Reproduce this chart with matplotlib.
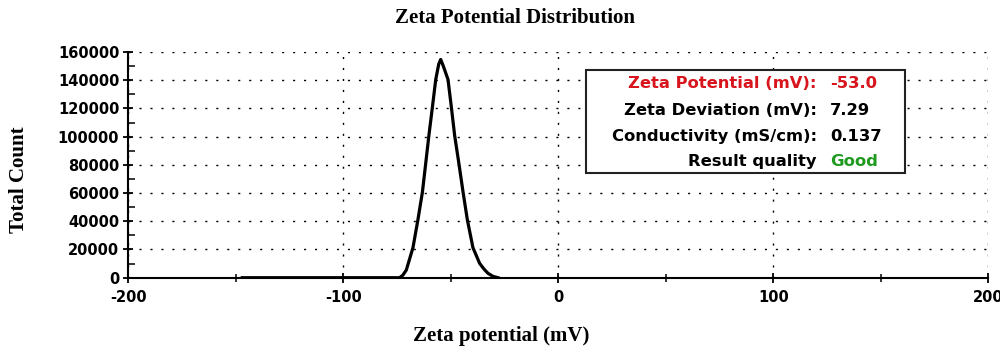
import matplotlib.pyplot as plt
from matplotlib.patches import Rectangle
from matplotlib.ticker import MultipleLocator

# distribution
zeta = [-147, -110, -73.8, -72.3, -70.7, -67.6, -65.3, -63.2, -61.7, -60.2, -58.6, -57.0,
        -55.6, -54.7, -53.6, -51.3, -49.7, -48.2, -46.2, -44.3, -42.3, -39.7, -36.6,
        -34.5, -32.7, -30.3, -28.0]
counts = [0, 0, 0, 1800, 5400, 21300, 41000, 60700, 80600, 100700, 120400, 140500,
          151500, 154700, 150500, 140500, 120400, 100700, 80600, 60700, 41000, 21300, 10200,
          6000, 3100, 900, 0]

xticks = [-200, -100, 0, 100, 200]
yticks = list(range(0, 160001, 20000))

labels = ['Zeta Potential (mV):', 'Zeta Deviation (mV):', 'Conductivity (mS/cm):', 'Result quality']
values = ['-53.0', '7.29', '0.137', 'Good']
label_colors = ['#d8141c', 'black', 'black', 'black']
value_colors = ['#d8141c', 'black', 'black', '#1e9a1e']

fig = plt.figure(figsize=(10, 3.49), dpi=100)
ax = fig.add_axes([0.1283, 1 - 277.7 / 349, 0.86, 225.7 / 349])

ax.plot(zeta, counts, color='black', lw=2.3, zorder=3)

ax.set_xlim(-200, 200)
ax.set_ylim(0, 160000)
ax.set_xticks(xticks)
ax.set_yticks(yticks)
ax.xaxis.set_minor_locator(MultipleLocator(50))
ax.yaxis.set_minor_locator(MultipleLocator(10000))
ax.set_xticklabels([str(t) for t in xticks])
ax.set_yticklabels([str(t) for t in yticks])

for s in ['top', 'right']:
    ax.spines[s].set_visible(False)
for s in ['left', 'bottom']:
    ax.spines[s].set_linewidth(1.5)

ax.tick_params(axis='both', which='major', direction='inout', length=7, width=1.3,
               labelsize=10.5, pad=3)
ax.tick_params(axis='y', which='minor', direction='in', length=5, width=1.1)
ax.tick_params(axis='x', which='minor', direction='inout', length=6, width=1.1)
ax.tick_params(axis='x', which='major', pad=5)
for lab in ax.get_xticklabels() + ax.get_yticklabels():
    lab.set_fontweight('bold')
    lab.set_family('DejaVu Sans')

ax.grid(True, which='major', color='black', lw=1, linestyle=(0, (1.5, 6.4)))
ax.set_axisbelow(True)

# results box
ax.add_patch(Rectangle((0.532, 0.464), 0.371, 0.456, transform=ax.transAxes,
                       facecolor='white', edgecolor='#222222', lw=1.5, zorder=4))
rows_y = [84, 110.7, 136.7, 161.7]
for lab, val, lc, vc, py in zip(labels, values, label_colors, value_colors, rows_y):
    y = (277.7 - py) / 225.7
    ax.text((817 - 128.3) / 860, y, lab, transform=ax.transAxes, ha='right', va='center',
            fontsize=11.8, fontweight='bold', color=lc, zorder=5)
    ax.text((830 - 128.3) / 860, y, val, transform=ax.transAxes, ha='left', va='center',
            fontsize=11.8, fontweight='bold', color=vc, zorder=5)

fig.text(0.515, 1 - 18 / 349, 'Zeta Potential Distribution', ha='center', va='center',
         fontsize=15, fontweight='bold', family='Liberation Serif')
fig.text(0.501, 1 - 336 / 349, 'Zeta potential (mV)', ha='center', va='center',
         fontsize=15, fontweight='bold', family='Liberation Serif')
fig.text(0.019, 1 - 180 / 349, 'Total Count', ha='center', va='center', rotation=90,
         fontsize=15, fontweight='bold', family='Liberation Serif')

fig.savefig('out.png', dpi=100)
